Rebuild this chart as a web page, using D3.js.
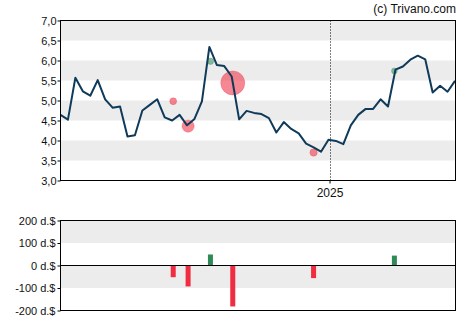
<!DOCTYPE html>
<html>
<head>
<meta charset="utf-8">
<script src="https://cdn.jsdelivr.net/npm/d3@7"></script>
<style>
  body { margin: 0; background: #fff; }
  text { font-family: Arial, "Liberation Sans", sans-serif; }
</style>
</head>
<body>
<svg id="chart" width="470" height="325"></svg>
<script>
// Weekly closing prices, first week starting 2024-04-23
const firstWeek = "2024-04-23";
const closes = [
  4.64, 4.52, 5.57, 5.23, 5.12, 5.51, 5.03, 4.82, 4.85, 4.10,
  4.13, 4.75, 4.89, 5.03, 4.58, 4.50, 4.64, 4.38, 4.54, 4.98,
  6.34, 5.89, 5.86, 5.60, 4.53, 4.74, 4.69, 4.66, 4.56, 4.20,
  4.46, 4.29, 4.18, 3.92, 3.83, 3.72, 4.02, 3.99, 3.91, 4.38,
  4.64, 4.79, 4.79, 5.03, 4.85, 5.77, 5.85, 6.02, 6.12, 6.03,
  5.20, 5.37, 5.22, 5.49
];
const priceTicks = [3.0, 3.5, 4.0, 4.5, 5.0, 5.5, 6.0, 6.5, 7.0];

// Insider trades: date, price paid, net value in thousand dollars
const tradeDates  = ["2024-08-07", "2024-08-21", "2024-09-11", "2024-10-02", "2024-12-17", "2025-03-03"];
const tradePrices = [4.98, 4.36, 5.98, 5.44, 3.70, 5.74];
const tradeValues = [-52, -93, 49, -182, -56, 44];
const flowTicks = [-200, -100, 0, 100, 200];

const yearMarks = ["2025-01-01"];

const parse = d3.timeParse("%Y-%m-%d");
const start = parse(firstWeek);
const series = closes.map((v, i) => ({ date: d3.timeDay.offset(start, 7 * i), value: v }));
const trades = tradeDates.map((d, i) => ({ date: parse(d), price: tradePrices[i], value: tradeValues[i] }));
const years = yearMarks.map(parse);

const deLocale = d3.formatLocale({ decimal: ",", thousands: ".", grouping: [3], currency: ["", " €"] });
const fmtPrice = deLocale.format(".1f");

const svg = d3.select("#chart");
const left = 60.5, right = 455.5;

const x = d3.scaleTime()
  .domain(d3.extent(series, d => d.date))
  .range([left, right - 0.5]);

// ---------- price panel ----------
const y = d3.scaleLinear().domain([3, 7]).range([180.5, 20.5]);

const bands = [[6.5, 7], [5.5, 6], [4.5, 5], [3.5, 4]];
svg.append("g").selectAll("rect").data(bands).join("rect")
  .attr("x", left).attr("width", right - left)
  .attr("y", d => y(d[1])).attr("height", d => y(d[0]) - y(d[1]))
  .attr("fill", "#ececec");

svg.append("g").selectAll("line").data(years).join("line")
  .attr("x1", d => Math.round(x(d)) + 0.5).attr("x2", d => Math.round(x(d)) + 0.5)
  .attr("y1", y(7)).attr("y2", y(3))
  .attr("stroke", "#000").attr("stroke-width", 1).attr("stroke-dasharray", "1,2");

// trade bubbles sit beneath the price line
const r = d3.scaleLinear().domain([0, 182]).range([0, 12]);
svg.append("g").selectAll("circle").data(trades).join("circle")
  .attr("cx", d => x(d.date)).attr("cy", d => y(d.price))
  .attr("r", d => r(Math.abs(d.value)))
  .attr("fill", d => d.value < 0 ? "#f0384c" : "#2e8b57")
  .attr("fill-opacity", d => d.value < 0 ? 0.6 : 0.55)
  .attr("stroke", d => d.value < 0 ? "#f0384c" : "#2e8b57")
  .attr("stroke-opacity", 0.3);

const line = d3.line().x(d => x(d.date)).y(d => y(d.value));
svg.append("path").datum(series)
  .attr("d", line)
  .attr("fill", "none")
  .attr("stroke", "#0f3a5a")
  .attr("stroke-width", 2)
  .attr("stroke-linejoin", "round");

svg.append("rect")
  .attr("x", left).attr("y", y(7)).attr("width", right - left).attr("height", y(3) - y(7))
  .attr("fill", "none").attr("stroke", "#000").attr("stroke-width", 1);

const yAxis = d3.axisLeft(y).tickValues(priceTicks).tickSize(3).tickFormat(fmtPrice);
svg.append("g").attr("transform", `translate(${left},0)`).call(yAxis)
  .call(g => g.select(".domain").remove())
  .call(g => g.selectAll("text").attr("font-size", 11).attr("fill", "#111").attr("font-family", "Arial, 'Liberation Sans', sans-serif").attr("x", -4));

const xAxis = d3.axisBottom(x).tickValues(years).tickSize(3).tickFormat(d3.timeFormat("%Y"));
svg.append("g").attr("transform", `translate(0,${y(3)})`).call(xAxis)
  .call(g => g.select(".domain").remove())
  .call(g => g.selectAll("text").attr("font-size", 12).attr("fill", "#111").attr("font-family", "Arial, 'Liberation Sans', sans-serif").attr("dy", "0.9em"));

svg.append("text")
  .attr("x", 456).attr("y", 13)
  .attr("text-anchor", "end")
  .attr("font-size", 12)
  .attr("fill", "#111")
  .text("(c) Trivano.com");

// ---------- insider flow panel ----------
const yf = d3.scaleLinear().domain([-200, 200]).range([310.5, 220.5]);

const fBands = [[100, 200], [-100, 0]];
svg.append("g").selectAll("rect").data(fBands).join("rect")
  .attr("x", left).attr("width", right - left)
  .attr("y", d => yf(d[1])).attr("height", d => yf(d[0]) - yf(d[1]))
  .attr("fill", "#ececec");

const barW = 5;
svg.append("g").selectAll("rect").data(trades).join("rect")
  .attr("x", d => x(d.date) - barW / 2)
  .attr("width", barW)
  .attr("y", d => Math.min(yf(d.value), yf(0)))
  .attr("height", d => Math.abs(yf(d.value) - yf(0)))
  .attr("fill", d => d.value < 0 ? "#f02d40" : "#2e8b57");

svg.append("line")
  .attr("x1", left).attr("x2", right).attr("y1", yf(0)).attr("y2", yf(0))
  .attr("stroke", "#000").attr("stroke-width", 1);

svg.append("rect")
  .attr("x", left).attr("y", yf(200)).attr("width", right - left).attr("height", yf(-200) - yf(200))
  .attr("fill", "none").attr("stroke", "#000").attr("stroke-width", 1);

const yfAxis = d3.axisLeft(yf).tickValues(flowTicks).tickSize(3).tickFormat(d => `${d} d.$`);
svg.append("g").attr("transform", `translate(${left},0)`).call(yfAxis)
  .call(g => g.select(".domain").remove())
  .call(g => g.selectAll("text").attr("font-size", 11).attr("fill", "#111").attr("font-family", "Arial, 'Liberation Sans', sans-serif").attr("x", -5));
</script>
</body>
</html>
